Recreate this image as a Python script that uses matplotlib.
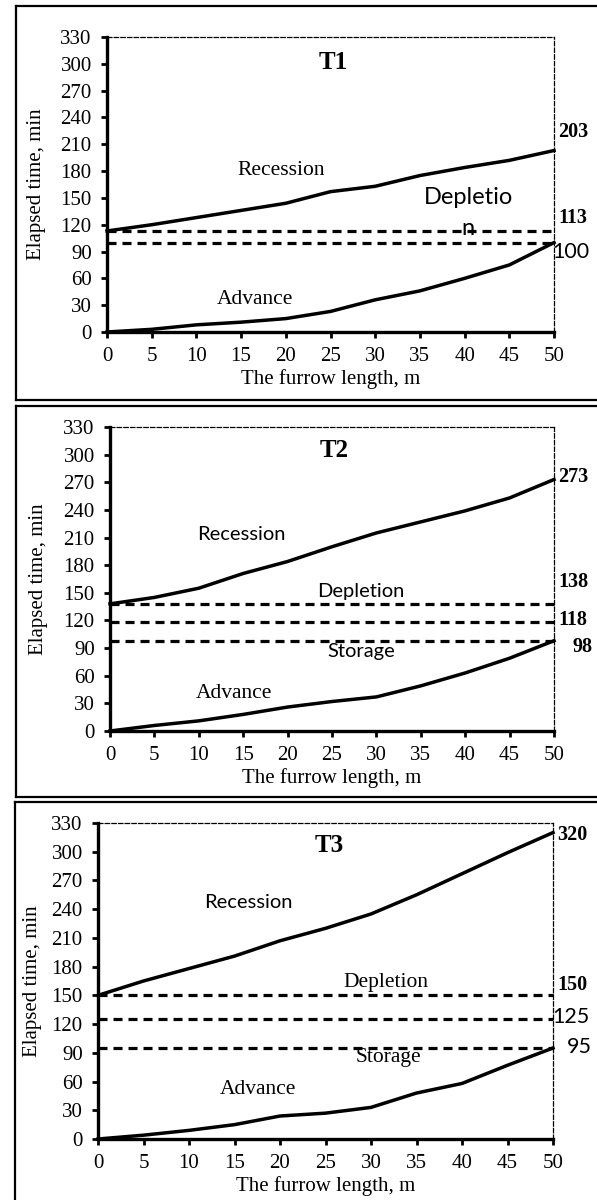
import matplotlib
matplotlib.use("Agg")
import matplotlib.pyplot as plt
from matplotlib.lines import Line2D

plt.rcParams['lines.scale_dashes'] = False

# ---------------- data ----------------
furrow_x = [0, 5, 10, 15, 20, 25, 30, 35, 40, 45, 50]
x_ticks = [0, 5, 10, 15, 20, 25, 30, 35, 40, 45, 50]
y_ticks = [0, 30, 60, 90, 120, 150, 180, 210, 240, 270, 300, 330]

t1_recession = [113, 120, 128, 136, 144, 157, 163, 175, 184, 192, 203]
t1_advance = [0, 3, 8, 11, 15, 23, 36, 46, 60, 75, 100]
t1_levels = [113, 100]

t2_recession = [138, 145, 155, 171, 184, 200, 215, 227, 239, 253, 273]
t2_advance = [0, 6, 11, 18, 26, 32, 37, 49, 63, 79, 98]
t2_levels = [138, 118, 98]

t3_recession = [150, 165, 178, 191, 207, 220, 235, 255, 277, 299, 320]
t3_advance = [0, 4, 9, 15, 24, 27, 33, 48, 58, 77, 95]
t3_levels = [150, 125, 95]

titles = ["T1", "T2", "T3"]
x_label = "The furrow length, m"
y_label = "Elapsed time, min"

SERIF = ["Liberation Serif", "DejaVu Serif"]
SANS = ["Lato", "DejaVu Sans"]

W, H = 597, 1200
fig = plt.figure(figsize=(W / 100, H / 100), dpi=100)


def fx(px):
    return px / W


def fy(py):
    return 1 - py / H


def add_axes(x0, x1, ytop, ybot):
    return fig.add_axes([fx(x0), fy(ybot), fx(x1) - fx(x0), (ybot - ytop) / H])


def style_axes(ax, ylab_px, ytop, ybot):
    ax.set_xlim(0, 50)
    ax.set_ylim(0, 330)
    ax.set_xticks(x_ticks)
    ax.set_yticks(y_ticks)
    for s in ['left', 'bottom']:
        ax.spines[s].set_linewidth(2.4)
    for s in ['top', 'right']:
        ax.spines[s].set_linewidth(0.9)
        ax.spines[s].set_linestyle((0, (3.2, 1.6)))
    ax.tick_params(direction='out', length=4, width=2, labelsize=15)
    ax.tick_params(axis='x', pad=7)
    ax.tick_params(axis='y', pad=7)
    for lab in ax.get_xticklabels() + ax.get_yticklabels():
        lab.set_family(SERIF)
    ax.set_xlabel(x_label, family=SERIF, fontsize=15, labelpad=2)
    ax.set_ylabel(y_label, family=SERIF, fontsize=15)
    ax.yaxis.set_label_coords(fx(ylab_px), fy((ytop + ybot) / 2), transform=fig.transFigure)


def draw_panel(ax, rec, adv, levels):
    for lv in levels:
        ax.plot([0, 50], [lv, lv], color='black', lw=2.3,
                dashes=(6.5, 4.3), solid_capstyle='butt', dash_capstyle='butt',
                clip_on=False, zorder=3)
    ax.plot(furrow_x, rec, color='black', lw=2.5, clip_on=False, zorder=4)
    ax.plot(furrow_x, adv, color='black', lw=2.5, clip_on=False, zorder=4)


def border(ytop, ybot, left=16, bottom_visible=True):
    kw = dict(color='black', lw=1.6, transform=fig.transFigure)
    fig.add_artist(Line2D([fx(left), 1.0], [fy(ytop), fy(ytop)], **kw))
    fig.add_artist(Line2D([fx(left), fx(left)], [fy(ytop), fy(ybot)], **kw))
    if bottom_visible:
        fig.add_artist(Line2D([fx(left), 1.0], [fy(ybot), fy(ybot)], **kw))


SER_LAB = 15.5
SANS_LAB = 14.5
BOLD_VAL = 14.5
SANS_VAL = 14.5
TITLE = 18

# ---------------- panel 1 ----------------
border(6, 400)
ax1 = add_axes(107, 554, 37, 332)
draw_panel(ax1, t1_recession, t1_advance, t1_levels)
style_axes(ax1, 46, 37, 332)
ax1.text(25.3, 302, titles[0], family=SERIF, fontsize=TITLE, weight='bold', ha='center', va='center')
ax1.text(19.5, 181, "Recession", family=SERIF, fontsize=SER_LAB, ha='center', va='center')
ax1.text(40.4, 150, "Depletio", family=SANS, fontsize=17, ha='center', va='center')
ax1.text(40.4, 116, "n", family=SANS, fontsize=17, ha='center', va='center')
ax1.text(16.6, 36, "Advance", family=SERIF, fontsize=SER_LAB, ha='center', va='center')
ax1.text(50.45, 224, "203", family=SERIF, fontsize=BOLD_VAL, weight='bold', ha='left', va='center')
ax1.text(50.45, 127.5, "113", family=SERIF, fontsize=BOLD_VAL, weight='bold', ha='left', va='center')
ax1.text(49.8, 89.5, "100", family=SANS, fontsize=SANS_VAL + 1, ha='left', va='center')

# ---------------- panel 2 ----------------
border(406, 797)
ax2 = add_axes(110, 554, 427, 731)
draw_panel(ax2, t2_recession, t2_advance, t2_levels)
style_axes(ax2, 48, 427, 731)
ax2.text(25.3, 305, titles[1], family=SERIF, fontsize=TITLE, weight='bold', ha='center', va='center')
ax2.text(14.75, 212.8, "Recession", family=SANS, fontsize=SANS_LAB, ha='center', va='center')
ax2.text(28.2, 151, "Depletion", family=SANS, fontsize=SANS_LAB, ha='center', va='center')
ax2.text(28.3, 85.8, "Storage", family=SANS, fontsize=SANS_LAB, ha='center', va='center')
ax2.text(14.0, 41, "Advance", family=SERIF, fontsize=SER_LAB, ha='center', va='center')
ax2.text(50.45, 275.7, "273", family=SERIF, fontsize=BOLD_VAL, weight='bold', ha='left', va='center')
ax2.text(50.45, 161.7, "138", family=SERIF, fontsize=BOLD_VAL, weight='bold', ha='left', va='center')
ax2.text(50.45, 120.5, "118", family=SERIF, fontsize=BOLD_VAL, weight='bold', ha='left', va='center')
ax2.text(52.1, 91.2, "98", family=SERIF, fontsize=BOLD_VAL, weight='bold', ha='left', va='center')

# ---------------- panel 3 ----------------
border(802, 1210, left=15, bottom_visible=False)
ax3 = add_axes(98, 553, 823, 1139)
draw_panel(ax3, t3_recession, t3_advance, t3_levels)
style_axes(ax3, 42, 823, 1139)
ax3.text(25.4, 307, titles[2], family=SERIF, fontsize=TITLE, weight='bold', ha='center', va='center')
ax3.text(16.5, 246.5, "Recession", family=SANS, fontsize=SANS_LAB, ha='center', va='center')
ax3.text(31.6, 163, "Depletion", family=SERIF, fontsize=SER_LAB, ha='center', va='center')
ax3.text(31.9, 84.6, "Storage", family=SERIF, fontsize=SER_LAB, ha='center', va='center')
ax3.text(17.6, 51.2, "Advance", family=SERIF, fontsize=SER_LAB, ha='center', va='center')
ax3.text(50.5, 317.5, "320", family=SERIF, fontsize=BOLD_VAL, weight='bold', ha='left', va='center')
ax3.text(50.5, 160.8, "150", family=SERIF, fontsize=BOLD_VAL, weight='bold', ha='left', va='center')
ax3.text(49.9, 127.4, "125", family=SANS, fontsize=SANS_VAL + 1, ha='left', va='center')
ax3.text(51.5, 96, "95", family=SANS, fontsize=SANS_VAL + 1, ha='left', va='center')

fig.savefig("out.png", dpi=100)
